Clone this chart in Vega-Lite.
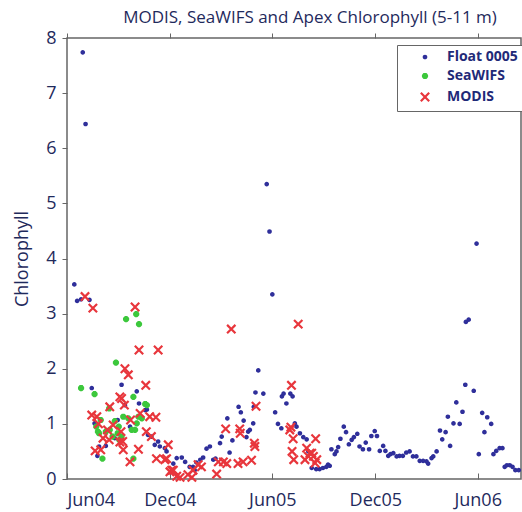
{
  "$schema": "https://vega.github.io/schema/vega-lite/v6.json",
  "width": 454,
  "height": 441,
  "autosize": {"type": "none"},
  "padding": {"left": 67, "top": 38, "right": 1, "bottom": 33},
  "background": "white",
  "title": {"text": "MODIS, SeaWIFS and Apex Chlorophyll (5-11 m)", "font": "Open Sans", "fontSize": 17, "fontWeight": "normal", "color": "#1f2a5c", "anchor": "middle", "dx": 16, "offset": 2},
  "config": {
    "view": {"stroke": "#666", "strokeWidth": 1.5},
    "axis": {"grid": false, "domainColor": "#666", "domainWidth": 1.5, "tickColor": "#666", "labelFont": "Open Sans", "labelColor": "#1f2a5c", "labelFontSize": 18, "titleFont": "Open Sans", "titleColor": "#1f2a5c", "titleFontSize": 18, "titleFontWeight": "normal"},
    "legend": {"strokeColor": "#666", "fillColor": "white", "padding": 5, "labelFont": "Open Sans", "labelFontSize": 14, "labelFontWeight": "bold", "labelColor": "#1f2a78", "rowPadding": 4, "symbolOffset": 16, "labelOffset": 15, "symbolSize": 30, "symbolStrokeWidth": 1.5}
  },
  "data": {"values": [
    {"source":"Float 0005","date":"2004-06-14","chl":3.53},
    {"source":"Float 0005","date":"2004-06-19","chl":3.23},
    {"source":"Float 0005","date":"2004-06-26","chl":3.26},
    {"source":"Float 0005","date":"2004-06-29","chl":7.74},
    {"source":"Float 0005","date":"2004-07-04","chl":6.44},
    {"source":"Float 0005","date":"2004-07-11","chl":3.25},
    {"source":"Float 0005","date":"2004-07-15","chl":1.65},
    {"source":"Float 0005","date":"2004-07-20","chl":1.01},
    {"source":"Float 0005","date":"2004-07-25","chl":0.42},
    {"source":"Float 0005","date":"2004-07-28","chl":0.59},
    {"source":"Float 0005","date":"2004-08-09","chl":0.60},
    {"source":"Float 0005","date":"2004-08-25","chl":0.74},
    {"source":"Float 0005","date":"2004-08-30","chl":1.07},
    {"source":"Float 0005","date":"2004-09-06","chl":1.71},
    {"source":"Float 0005","date":"2004-09-12","chl":1.34},
    {"source":"Float 0005","date":"2004-09-21","chl":0.95},
    {"source":"Float 0005","date":"2004-10-03","chl":1.59},
    {"source":"Float 0005","date":"2004-10-07","chl":1.37},
    {"source":"Float 0005","date":"2004-10-18","chl":1.25},
    {"source":"Float 0005","date":"2004-10-21","chl":1.26},
    {"source":"Float 0005","date":"2004-10-23","chl":0.80},
    {"source":"Float 0005","date":"2004-10-29","chl":0.77},
    {"source":"Float 0005","date":"2004-11-04","chl":0.62},
    {"source":"Float 0005","date":"2004-11-10","chl":0.68},
    {"source":"Float 0005","date":"2004-11-13","chl":0.59},
    {"source":"Float 0005","date":"2004-11-22","chl":0.56},
    {"source":"Float 0005","date":"2004-11-25","chl":0.50},
    {"source":"Float 0005","date":"2004-12-07","chl":0.28},
    {"source":"Float 0005","date":"2004-12-13","chl":0.38},
    {"source":"Float 0005","date":"2004-12-22","chl":0.39},
    {"source":"Float 0005","date":"2004-12-28","chl":0.31},
    {"source":"Float 0005","date":"2005-01-05","chl":0.22},
    {"source":"Float 0005","date":"2005-01-11","chl":0.22},
    {"source":"Float 0005","date":"2005-01-14","chl":0.16},
    {"source":"Float 0005","date":"2005-01-17","chl":0.30},
    {"source":"Float 0005","date":"2005-01-24","chl":0.35},
    {"source":"Float 0005","date":"2005-01-29","chl":0.39},
    {"source":"Float 0005","date":"2005-02-04","chl":0.55},
    {"source":"Float 0005","date":"2005-02-10","chl":0.59},
    {"source":"Float 0005","date":"2005-02-16","chl":0.35},
    {"source":"Float 0005","date":"2005-02-20","chl":0.37},
    {"source":"Float 0005","date":"2005-02-28","chl":0.65},
    {"source":"Float 0005","date":"2005-03-03","chl":0.77},
    {"source":"Float 0005","date":"2005-03-13","chl":1.10},
    {"source":"Float 0005","date":"2005-03-17","chl":0.48},
    {"source":"Float 0005","date":"2005-03-22","chl":0.70},
    {"source":"Float 0005","date":"2005-04-02","chl":1.31},
    {"source":"Float 0005","date":"2005-04-06","chl":1.21},
    {"source":"Float 0005","date":"2005-04-11","chl":1.06},
    {"source":"Float 0005","date":"2005-04-16","chl":0.76},
    {"source":"Float 0005","date":"2005-04-19","chl":0.86},
    {"source":"Float 0005","date":"2005-04-22","chl":0.89},
    {"source":"Float 0005","date":"2005-04-28","chl":1.01},
    {"source":"Float 0005","date":"2005-04-29","chl":1.31},
    {"source":"Float 0005","date":"2005-05-02","chl":1.57},
    {"source":"Float 0005","date":"2005-05-07","chl":1.97},
    {"source":"Float 0005","date":"2005-05-16","chl":1.55},
    {"source":"Float 0005","date":"2005-05-22","chl":5.35},
    {"source":"Float 0005","date":"2005-05-27","chl":4.49},
    {"source":"Float 0005","date":"2005-06-01","chl":3.35},
    {"source":"Float 0005","date":"2005-06-06","chl":1.21},
    {"source":"Float 0005","date":"2005-06-11","chl":1.00},
    {"source":"Float 0005","date":"2005-06-17","chl":0.92},
    {"source":"Float 0005","date":"2005-06-18","chl":1.50},
    {"source":"Float 0005","date":"2005-06-21","chl":1.55},
    {"source":"Float 0005","date":"2005-06-26","chl":1.37},
    {"source":"Float 0005","date":"2005-07-03","chl":1.55},
    {"source":"Float 0005","date":"2005-07-07","chl":1.50},
    {"source":"Float 0005","date":"2005-07-11","chl":1.01},
    {"source":"Float 0005","date":"2005-07-14","chl":0.95},
    {"source":"Float 0005","date":"2005-07-20","chl":0.83},
    {"source":"Float 0005","date":"2005-07-26","chl":0.76},
    {"source":"Float 0005","date":"2005-08-01","chl":0.72},
    {"source":"Float 0005","date":"2005-08-04","chl":0.50},
    {"source":"Float 0005","date":"2005-08-10","chl":0.20},
    {"source":"Float 0005","date":"2005-08-18","chl":0.18},
    {"source":"Float 0005","date":"2005-08-24","chl":0.18},
    {"source":"Float 0005","date":"2005-08-30","chl":0.20},
    {"source":"Float 0005","date":"2005-09-05","chl":0.22},
    {"source":"Float 0005","date":"2005-09-08","chl":0.26},
    {"source":"Float 0005","date":"2005-09-11","chl":0.24},
    {"source":"Float 0005","date":"2005-09-14","chl":0.54},
    {"source":"Float 0005","date":"2005-09-20","chl":0.45},
    {"source":"Float 0005","date":"2005-09-23","chl":0.50},
    {"source":"Float 0005","date":"2005-09-26","chl":0.58},
    {"source":"Float 0005","date":"2005-09-30","chl":0.73},
    {"source":"Float 0005","date":"2005-10-06","chl":0.95},
    {"source":"Float 0005","date":"2005-10-10","chl":0.85},
    {"source":"Float 0005","date":"2005-10-15","chl":0.63},
    {"source":"Float 0005","date":"2005-10-20","chl":0.71},
    {"source":"Float 0005","date":"2005-10-24","chl":0.76},
    {"source":"Float 0005","date":"2005-10-30","chl":0.82},
    {"source":"Float 0005","date":"2005-11-03","chl":0.59},
    {"source":"Float 0005","date":"2005-11-09","chl":0.54},
    {"source":"Float 0005","date":"2005-11-14","chl":0.66},
    {"source":"Float 0005","date":"2005-11-20","chl":0.54},
    {"source":"Float 0005","date":"2005-11-24","chl":0.78},
    {"source":"Float 0005","date":"2005-11-30","chl":0.87},
    {"source":"Float 0005","date":"2005-12-04","chl":0.78},
    {"source":"Float 0005","date":"2005-12-09","chl":0.51},
    {"source":"Float 0005","date":"2005-12-15","chl":0.60},
    {"source":"Float 0005","date":"2005-12-19","chl":0.51},
    {"source":"Float 0005","date":"2005-12-24","chl":0.42},
    {"source":"Float 0005","date":"2005-12-28","chl":0.45},
    {"source":"Float 0005","date":"2006-01-02","chl":0.47},
    {"source":"Float 0005","date":"2006-01-08","chl":0.41},
    {"source":"Float 0005","date":"2006-01-13","chl":0.42},
    {"source":"Float 0005","date":"2006-01-19","chl":0.42},
    {"source":"Float 0005","date":"2006-01-25","chl":0.48},
    {"source":"Float 0005","date":"2006-01-31","chl":0.50},
    {"source":"Float 0005","date":"2006-02-06","chl":0.41},
    {"source":"Float 0005","date":"2006-02-12","chl":0.41},
    {"source":"Float 0005","date":"2006-02-18","chl":0.33},
    {"source":"Float 0005","date":"2006-02-24","chl":0.33},
    {"source":"Float 0005","date":"2006-03-02","chl":0.32},
    {"source":"Float 0005","date":"2006-03-05","chl":0.28},
    {"source":"Float 0005","date":"2006-03-11","chl":0.38},
    {"source":"Float 0005","date":"2006-03-14","chl":0.41},
    {"source":"Float 0005","date":"2006-03-20","chl":0.50},
    {"source":"Float 0005","date":"2006-03-26","chl":0.88},
    {"source":"Float 0005","date":"2006-03-30","chl":0.72},
    {"source":"Float 0005","date":"2006-04-05","chl":0.85},
    {"source":"Float 0005","date":"2006-04-09","chl":1.13},
    {"source":"Float 0005","date":"2006-04-13","chl":0.60},
    {"source":"Float 0005","date":"2006-04-19","chl":1.01},
    {"source":"Float 0005","date":"2006-04-24","chl":1.39},
    {"source":"Float 0005","date":"2006-04-30","chl":1.00},
    {"source":"Float 0005","date":"2006-05-05","chl":1.22},
    {"source":"Float 0005","date":"2006-05-10","chl":1.71},
    {"source":"Float 0005","date":"2006-05-11","chl":2.85},
    {"source":"Float 0005","date":"2006-05-16","chl":2.89},
    {"source":"Float 0005","date":"2006-05-25","chl":1.60},
    {"source":"Float 0005","date":"2006-05-30","chl":4.27},
    {"source":"Float 0005","date":"2006-06-03","chl":0.45},
    {"source":"Float 0005","date":"2006-06-09","chl":1.20},
    {"source":"Float 0005","date":"2006-06-13","chl":0.85},
    {"source":"Float 0005","date":"2006-06-18","chl":1.12},
    {"source":"Float 0005","date":"2006-06-25","chl":1.00},
    {"source":"Float 0005","date":"2006-06-29","chl":0.45},
    {"source":"Float 0005","date":"2006-07-04","chl":0.51},
    {"source":"Float 0005","date":"2006-07-10","chl":0.56},
    {"source":"Float 0005","date":"2006-07-15","chl":0.56},
    {"source":"Float 0005","date":"2006-07-19","chl":0.22},
    {"source":"Float 0005","date":"2006-07-23","chl":0.25},
    {"source":"Float 0005","date":"2006-07-28","chl":0.25},
    {"source":"Float 0005","date":"2006-08-02","chl":0.22},
    {"source":"Float 0005","date":"2006-08-07","chl":0.16},
    {"source":"Float 0005","date":"2006-08-13","chl":0.16},
    {"source":"SeaWIFS","date":"2004-06-26","chl":1.65},
    {"source":"SeaWIFS","date":"2004-07-20","chl":1.54},
    {"source":"SeaWIFS","date":"2004-09-14","chl":2.90},
    {"source":"SeaWIFS","date":"2004-10-02","chl":2.99},
    {"source":"SeaWIFS","date":"2004-10-07","chl":2.81},
    {"source":"SeaWIFS","date":"2004-08-27","chl":2.11},
    {"source":"SeaWIFS","date":"2004-09-27","chl":1.49},
    {"source":"SeaWIFS","date":"2004-10-18","chl":1.36},
    {"source":"SeaWIFS","date":"2004-08-15","chl":1.28},
    {"source":"SeaWIFS","date":"2004-07-23","chl":0.95},
    {"source":"SeaWIFS","date":"2004-07-26","chl":0.86},
    {"source":"SeaWIFS","date":"2004-07-28","chl":0.83},
    {"source":"SeaWIFS","date":"2004-07-31","chl":1.07},
    {"source":"SeaWIFS","date":"2004-08-09","chl":0.86},
    {"source":"SeaWIFS","date":"2004-08-16","chl":0.89},
    {"source":"SeaWIFS","date":"2004-08-21","chl":0.77},
    {"source":"SeaWIFS","date":"2004-08-25","chl":1.05},
    {"source":"SeaWIFS","date":"2004-08-30","chl":0.83},
    {"source":"SeaWIFS","date":"2004-09-02","chl":0.71},
    {"source":"SeaWIFS","date":"2004-09-01","chl":0.95},
    {"source":"SeaWIFS","date":"2004-08-03","chl":0.37},
    {"source":"SeaWIFS","date":"2004-10-21","chl":1.34},
    {"source":"SeaWIFS","date":"2004-09-09","chl":1.13},
    {"source":"SeaWIFS","date":"2004-09-18","chl":1.10},
    {"source":"SeaWIFS","date":"2004-10-12","chl":1.10},
    {"source":"SeaWIFS","date":"2004-10-03","chl":1.01},
    {"source":"SeaWIFS","date":"2004-09-30","chl":0.89},
    {"source":"SeaWIFS","date":"2004-09-06","chl":0.77},
    {"source":"SeaWIFS","date":"2004-09-27","chl":0.37},
    {"source":"SeaWIFS","date":"2004-09-24","chl":0.89},
    {"source":"SeaWIFS","date":"2004-10-06","chl":1.13},
    {"source":"MODIS","date":"2004-07-03","chl":3.31},
    {"source":"MODIS","date":"2004-07-17","chl":3.10},
    {"source":"MODIS","date":"2004-09-30","chl":3.12},
    {"source":"MODIS","date":"2004-10-07","chl":2.34},
    {"source":"MODIS","date":"2004-11-10","chl":2.34},
    {"source":"MODIS","date":"2004-09-12","chl":2.00},
    {"source":"MODIS","date":"2004-09-18","chl":1.89},
    {"source":"MODIS","date":"2004-10-19","chl":1.70},
    {"source":"MODIS","date":"2004-09-03","chl":1.49},
    {"source":"MODIS","date":"2004-08-16","chl":1.31},
    {"source":"MODIS","date":"2004-07-15","chl":1.16},
    {"source":"MODIS","date":"2004-07-24","chl":1.13},
    {"source":"MODIS","date":"2004-10-09","chl":1.19},
    {"source":"MODIS","date":"2004-11-06","chl":1.12},
    {"source":"MODIS","date":"2004-08-04","chl":0.74},
    {"source":"MODIS","date":"2004-09-03","chl":0.67},
    {"source":"MODIS","date":"2004-09-09","chl":0.53},
    {"source":"MODIS","date":"2004-10-06","chl":0.54},
    {"source":"MODIS","date":"2004-09-21","chl":0.31},
    {"source":"MODIS","date":"2004-07-21","chl":0.51},
    {"source":"MODIS","date":"2004-10-20","chl":0.86},
    {"source":"MODIS","date":"2004-10-29","chl":0.77},
    {"source":"MODIS","date":"2004-11-07","chl":0.37},
    {"source":"MODIS","date":"2004-11-22","chl":0.35},
    {"source":"MODIS","date":"2004-12-01","chl":0.13},
    {"source":"MODIS","date":"2004-08-22","chl":0.98},
    {"source":"MODIS","date":"2004-09-11","chl":1.34},
    {"source":"MODIS","date":"2004-08-12","chl":0.89},
    {"source":"MODIS","date":"2004-08-15","chl":0.71},
    {"source":"MODIS","date":"2004-09-08","chl":0.68},
    {"source":"MODIS","date":"2004-09-05","chl":0.86},
    {"source":"MODIS","date":"2004-07-31","chl":0.53},
    {"source":"MODIS","date":"2004-09-06","chl":1.46},
    {"source":"MODIS","date":"2004-10-26","chl":1.13},
    {"source":"MODIS","date":"2004-09-22","chl":1.07},
    {"source":"MODIS","date":"2004-11-25","chl":0.37},
    {"source":"MODIS","date":"2004-12-04","chl":0.16},
    {"source":"MODIS","date":"2004-11-28","chl":0.62},
    {"source":"MODIS","date":"2004-07-27","chl":1.00},
    {"source":"MODIS","date":"2004-12-07","chl":0.16},
    {"source":"MODIS","date":"2004-12-13","chl":0.05},
    {"source":"MODIS","date":"2004-12-19","chl":0.03},
    {"source":"MODIS","date":"2005-01-02","chl":0.08},
    {"source":"MODIS","date":"2005-01-09","chl":0.03},
    {"source":"MODIS","date":"2005-01-11","chl":0.16},
    {"source":"MODIS","date":"2005-01-20","chl":0.26},
    {"source":"MODIS","date":"2005-01-26","chl":0.22},
    {"source":"MODIS","date":"2005-02-22","chl":0.09},
    {"source":"MODIS","date":"2005-02-25","chl":0.31},
    {"source":"MODIS","date":"2005-03-06","chl":0.31},
    {"source":"MODIS","date":"2005-03-12","chl":0.28},
    {"source":"MODIS","date":"2005-04-01","chl":0.28},
    {"source":"MODIS","date":"2005-04-10","chl":0.31},
    {"source":"MODIS","date":"2005-04-25","chl":0.34},
    {"source":"MODIS","date":"2005-03-10","chl":0.91},
    {"source":"MODIS","date":"2005-04-04","chl":0.91},
    {"source":"MODIS","date":"2005-04-05","chl":0.83},
    {"source":"MODIS","date":"2005-04-30","chl":0.65},
    {"source":"MODIS","date":"2005-05-01","chl":0.59},
    {"source":"MODIS","date":"2005-05-03","chl":1.32},
    {"source":"MODIS","date":"2005-03-20","chl":2.72},
    {"source":"MODIS","date":"2005-07-17","chl":2.81},
    {"source":"MODIS","date":"2005-07-05","chl":1.70},
    {"source":"MODIS","date":"2005-07-04","chl":0.94},
    {"source":"MODIS","date":"2005-07-02","chl":0.89},
    {"source":"MODIS","date":"2005-07-08","chl":0.73},
    {"source":"MODIS","date":"2005-07-06","chl":0.50},
    {"source":"MODIS","date":"2005-07-09","chl":0.35},
    {"source":"MODIS","date":"2005-07-29","chl":0.35},
    {"source":"MODIS","date":"2005-08-01","chl":0.56},
    {"source":"MODIS","date":"2005-08-04","chl":0.41},
    {"source":"MODIS","date":"2005-08-07","chl":0.47},
    {"source":"MODIS","date":"2005-08-10","chl":0.47},
    {"source":"MODIS","date":"2005-08-13","chl":0.41},
    {"source":"MODIS","date":"2005-08-16","chl":0.29},
    {"source":"MODIS","date":"2005-08-17","chl":0.73},
    {"source":"MODIS","date":"2005-08-19","chl":0.35}
  ]},
  "resolve": {"axis": {"x": "independent"}},
  "layer": [
    {
      "mark": {"type": "point", "filled": false, "opacity": 1},
      "encoding": {
        "x": {"field": "date", "type": "temporal", "title": null,
          "scale": {"type": "utc", "domain": [{"year": 2004, "month": 6, "date": 1, "utc": true}, {"year": 2006, "month": 8, "date": 17, "utc": true}]},
          "axis": {"orient": "bottom", "format": "%b%y", "tickSize": -6, "labelPadding": 18, "labelDx": 5, "domain": false,
            "values": [{"year": 2004, "month": 6, "date": 1, "utc": true}, {"year": 2004, "month": 12, "date": 1, "utc": true}, {"year": 2005, "month": 6, "date": 1, "utc": true}, {"year": 2005, "month": 12, "date": 1, "utc": true}, {"year": 2006, "month": 6, "date": 1, "utc": true}]}},
        "y": {"field": "chl", "type": "quantitative", "title": "Chlorophyll",
          "scale": {"domain": [0, 8], "nice": false},
          "axis": {"values": [0, 1, 2, 3, 4, 5, 6, 7, 8], "tickSize": 5, "labelPadding": 6, "titlePadding": 14, "domain": false}},
        "color": {"field": "source", "type": "nominal", "title": null,
          "scale": {"domain": ["Float 0005", "SeaWIFS", "MODIS"], "range": ["#2e2e9a", "#3cc83c", "#e8363c"]},
          "legend": {"orient": "none", "legendX": 330, "legendY": 7, "title": null}},
        "shape": {"field": "source", "type": "nominal", "title": null,
          "scale": {"domain": ["Float 0005", "SeaWIFS", "MODIS"], "range": ["circle", "M-1,0L1,0M0,-1L0,1M-0.7,-0.7L0.7,0.7M-0.7,0.7L0.7,-0.7", "M-1,-1L1,1M-1,1L1,-1"]},
          "legend": {"orient": "none", "legendX": 330, "legendY": 7, "title": null}},
        "size": {"field": "source", "type": "nominal",
          "scale": {"domain": ["Float 0005", "SeaWIFS", "MODIS"], "range": [6, 70, 30]},
          "legend": null},
        "strokeWidth": {"field": "source", "type": "nominal",
          "scale": {"domain": ["Float 0005", "SeaWIFS", "MODIS"], "range": [2.2, 2.2, 1.1]},
          "legend": null}
      }
    },
    {
      "mark": {"type": "point", "opacity": 0},
      "encoding": {
        "x": {"field": "date", "type": "temporal", "title": null,
          "axis": {"orient": "top", "labels": false, "tickSize": 5, "domain": false,
            "values": [{"year": 2004, "month": 6, "date": 1, "utc": true}, {"year": 2004, "month": 12, "date": 1, "utc": true}, {"year": 2005, "month": 6, "date": 1, "utc": true}, {"year": 2005, "month": 12, "date": 1, "utc": true}, {"year": 2006, "month": 6, "date": 1, "utc": true}]}}
      }
    }
  ]
}
